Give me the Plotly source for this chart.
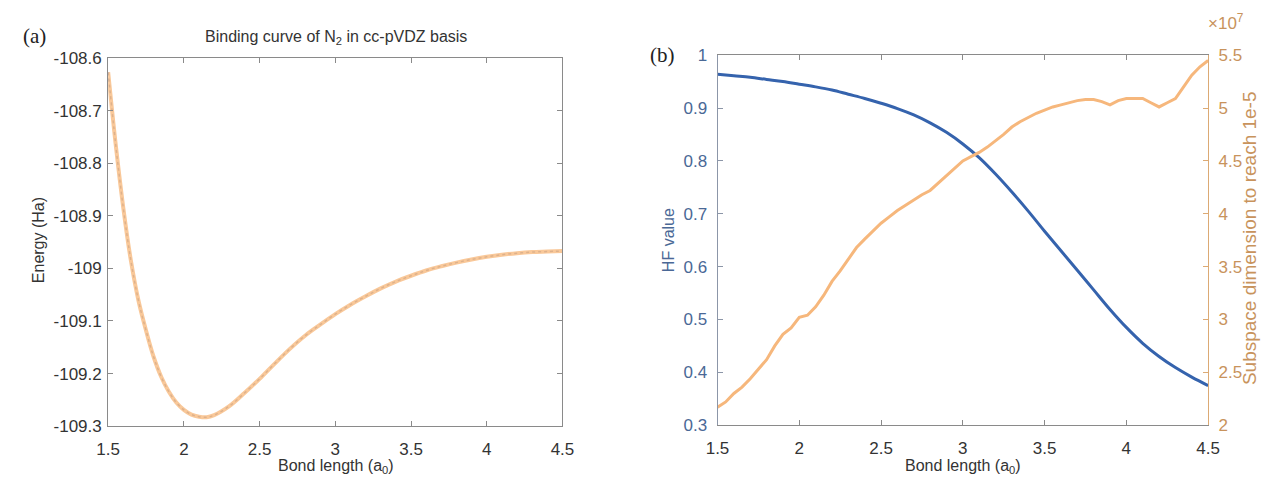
import plotly.graph_objects as go

# ---------------- data ----------------
# Panel (a): binding curve
bond_a = [1.5, 1.55, 1.6, 1.65, 1.7, 1.75, 1.8, 1.85, 1.9, 1.95, 2.0, 2.05, 2.1, 2.15,
          2.2, 2.3, 2.4, 2.5, 2.6, 2.7, 2.8, 2.9, 3.0, 3.1, 3.2, 3.3, 3.4, 3.5, 3.6,
          3.7, 3.8, 3.9, 4.0, 4.1, 4.2, 4.3, 4.4, 4.5]
energy = [-108.627, -108.765, -108.885, -108.985, -109.061, -109.118, -109.168,
          -109.206, -109.234, -109.255, -109.269, -109.278, -109.282, -109.283,
          -109.279, -109.262, -109.237, -109.210, -109.181, -109.153, -109.128,
          -109.107, -109.087, -109.069, -109.053, -109.038, -109.025, -109.014,
          -109.004, -108.996, -108.989, -108.983, -108.978, -108.974, -108.971,
          -108.969, -108.968, -108.967]

# Panel (b): HF value
bond_hf = [1.5, 1.6, 1.7, 1.8, 1.9, 2.0, 2.1, 2.2, 2.3, 2.4, 2.5, 2.6, 2.7, 2.8, 2.9,
           3.0, 3.1, 3.2, 3.3, 3.4, 3.5, 3.6, 3.7, 3.8, 3.9, 4.0, 4.1, 4.2, 4.3, 4.4, 4.5]
hf_value = [0.964, 0.961, 0.958, 0.954, 0.950, 0.945, 0.940, 0.934, 0.926, 0.918,
            0.909, 0.899, 0.887, 0.872, 0.854, 0.832, 0.806, 0.775, 0.741, 0.705,
            0.667, 0.630, 0.593, 0.556, 0.519, 0.485, 0.455, 0.430, 0.409, 0.391, 0.375]

# Panel (b): subspace dimension (units of 1e7)
bond_sub = [1.5, 1.55, 1.6, 1.65, 1.7, 1.75, 1.8, 1.85, 1.9, 1.95, 2.0, 2.05, 2.1,
            2.15, 2.2, 2.25, 2.3, 2.35, 2.4, 2.45, 2.5, 2.55, 2.6, 2.65, 2.7, 2.75,
            2.8, 2.85, 2.9, 2.95, 3.0, 3.05, 3.1, 3.15, 3.2, 3.25, 3.3, 3.35, 3.4,
            3.45, 3.5, 3.55, 3.6, 3.65, 3.7, 3.75, 3.8, 3.85, 3.9, 3.95, 4.0, 4.05,
            4.1, 4.15, 4.2, 4.25, 4.3, 4.35, 4.4, 4.45, 4.5]
subspace_1e7 = [2.17, 2.22, 2.30, 2.36, 2.44, 2.53, 2.62, 2.75, 2.86, 2.92, 3.02,
                3.04, 3.12, 3.23, 3.36, 3.46, 3.57, 3.68, 3.76, 3.84, 3.91, 3.97,
                4.03, 4.08, 4.13, 4.18, 4.22, 4.29, 4.36, 4.43, 4.50, 4.54, 4.58,
                4.63, 4.69, 4.75, 4.82, 4.87, 4.91, 4.95, 4.98, 5.01, 5.03, 5.05,
                5.07, 5.08, 5.08, 5.06, 5.03, 5.07, 5.09, 5.09, 5.09, 5.05, 5.01,
                5.05, 5.09, 5.20, 5.31, 5.39, 5.45]

x_ticks = [1.5, 2, 2.5, 3, 3.5, 4, 4.5]
x_ticklabels = ["1.5", "2", "2.5", "3", "3.5", "4", "4.5"]
ya_ticks = [-108.6, -108.7, -108.8, -108.9, -109.0, -109.1, -109.2, -109.3]
ya_ticklabels = ["-108.6", "-108.7", "-108.8", "-108.9", "-109", "-109.1", "-109.2", "-109.3"]
yb_ticks = [0.3, 0.4, 0.5, 0.6, 0.7, 0.8, 0.9, 1.0]
yb_ticklabels = ["0.3", "0.4", "0.5", "0.6", "0.7", "0.8", "0.9", "1"]
yc_ticks = [2, 2.5, 3, 3.5, 4, 4.5, 5, 5.5]
yc_ticklabels = ["2", "2.5", "3", "3.5", "4", "4.5", "5", "5.5"]

# ---------------- styles ----------------
W, H = 1279, 490
FONT = "Liberation Sans, Arial, sans-serif"
SERIF = "Liberation Serif, DejaVu Serif, serif"
GRAY = "#8a8a8a"
TXT = "#333333"
BLUE = "#3563ad"
BLUE_TXT = "#4a6896"
ORANGE = "#f6b77c"
ORANGE_TXT = "#c8935c"
ORANGE_AX = "#dcaa74"
TICK_SIZE = 17

xa = [98 / W, 561 / W]
xb = [719 / W, 1219 / W]
yda = [1 - 434 / H, 1 - 51 / H]
ydb = [1 - 433 / H, 1 - 48 / H]

fig = go.Figure()

fig.add_trace(go.Scatter(x=bond_a, y=energy, mode="lines",
                         line=dict(color="#7a8db8", width=1.5, dash="dot", shape="spline"),
                         xaxis="x", yaxis="y", showlegend=False))
fig.add_trace(go.Scatter(x=bond_a, y=energy, mode="lines", line=dict(color="#f8bb80", width=4, shape="spline"),
                         opacity=0.8, xaxis="x", yaxis="y", showlegend=False))

fig.add_trace(go.Scatter(x=bond_hf, y=hf_value, mode="lines", line=dict(color=BLUE, width=3, shape="spline"),
                         xaxis="x2", yaxis="y2", showlegend=False))
fig.add_trace(go.Scatter(x=bond_sub, y=subspace_1e7, mode="lines", line=dict(color=ORANGE, width=3),
                         xaxis="x2", yaxis="y3", showlegend=False))

axis_common = dict(showgrid=False, zeroline=False, ticks="inside", ticklen=5, tickwidth=1,
                   showline=True, linewidth=1, linecolor=GRAY, tickcolor=GRAY,
                   tickfont=dict(family=FONT, size=TICK_SIZE, color=TXT))

fig.update_layout(
    width=W, height=H, margin=dict(l=0, r=0, t=0, b=0),
    paper_bgcolor="white", plot_bgcolor="white",
    xaxis=dict(axis_common, domain=xa, range=[1.5, 4.5], tickvals=x_ticks, ticktext=x_ticklabels,
               mirror="ticks", anchor="y", ticklabelstandoff=7),
    yaxis=dict(axis_common, domain=yda, range=[-109.3, -108.6], tickvals=ya_ticks, ticktext=ya_ticklabels,
               mirror="ticks", anchor="x", ticklabelstandoff=2),
    xaxis2=dict(axis_common, domain=xb, range=[1.5, 4.5], tickvals=x_ticks, ticktext=x_ticklabels,
                mirror="ticks", anchor="y2", ticklabelstandoff=7),
    yaxis2=dict(axis_common, domain=ydb, range=[0.3, 1.0], tickvals=yb_ticks, ticktext=yb_ticklabels,
                anchor="x2", linecolor="#8c96a8", tickcolor="#8c96a8",
                tickfont=dict(family=FONT, size=TICK_SIZE, color=BLUE_TXT), ticklabelstandoff=6),
    yaxis3=dict(axis_common, domain=ydb, range=[2, 5.5], tickvals=yc_ticks, ticktext=yc_ticklabels,
                overlaying="y2", side="right", anchor="x2", linecolor=ORANGE_AX, tickcolor=ORANGE_AX,
                tickfont=dict(family=FONT, size=TICK_SIZE, color=ORANGE_TXT), ticklabelstandoff=6),
)

ann = []
def A(x, y, text, size=15, color=TXT, family=FONT, angle=0, xanchor="center"):
    ann.append(dict(x=x / W, y=1 - y / H, xref="paper", yref="paper", text=text, showarrow=False,
                    font=dict(family=family, size=size, color=color), textangle=angle,
                    xanchor=xanchor, yanchor="middle"))

A(330, 30, "Binding curve of N<sub>2</sub> in cc-pVDZ basis", size=16)
A(23, 28, "(a)", size=21, family=SERIF, color="#222222")
A(663, 48, "(b)", size=21, family=SERIF, color="#222222")
A(330, 476, "Bond length (a<sub>0</sub>)", size=16)
A(969, 476, "Bond length (a<sub>0</sub>)", size=16)
A(27, 240, "Energy (Ha)", size=16, angle=-90)
A(669, 240, "HF value", size=16, angle=-90, color=BLUE_TXT)
A(1261, 238, "Subspace dimension to reach 1e-5", size=19, angle=-90, color=ORANGE_TXT)
A(1237, 14, "×10<sup>7</sup>", size=17, color=ORANGE_TXT, xanchor="center")
fig.update_layout(annotations=ann)

fig.write_html("out.html")
